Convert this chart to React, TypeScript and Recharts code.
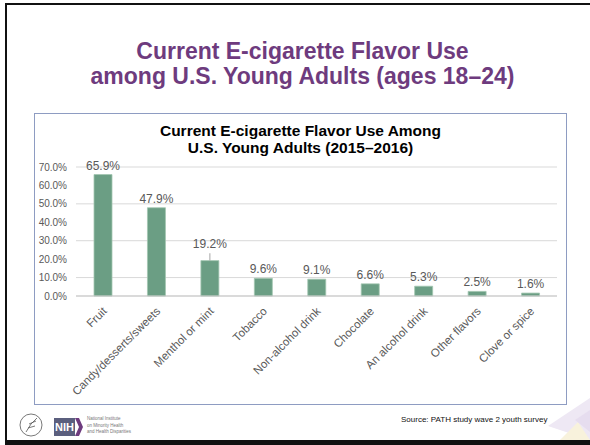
import React from 'react';
import { BarChart, Bar, XAxis, YAxis, CartesianGrid, LabelList, ErrorBar } from 'recharts';

const categories = ['Fruit', 'Candy/desserts/sweets', 'Menthol or mint', 'Tobacco', 'Non-alcohol drink', 'Chocolate', 'An alcohol drink', 'Other flavors', 'Clove or spice'];
const values = [65.9, 47.9, 19.2, 9.6, 9.1, 6.6, 5.3, 2.5, 1.6];
const errUpper = [0, 0, 4.0, 0, 0, 0, 0, 0, 0];
const yTicks = [0, 10, 20, 30, 40, 50, 60, 70];

const data = categories.map((name, i) => ({ name, value: values[i], err: [0, errUpper[i]] }));

const FONT = '"Liberation Sans", Arial, sans-serif';

const XTick = (props: any) => {
  const { x, y, payload } = props;
  const ty = y + 5;
  return (
    <text x={x + 2} y={ty} transform={`rotate(-45 ${x + 2} ${ty})`} textAnchor="end" dy="0.35em" fontSize={11.5} fill="#595959" fontFamily={FONT}>
      {payload.value}
    </text>
  );
};

const renderLabel = (props: any) => {
  const { x, y, width, height, value } = props;
  const idx = props.index != null ? props.index : values.indexOf(value);
  const pxPerUnit = value ? height / value : 0;
  const top = y - (errUpper[idx] || 0) * pxPerUnit;
  return (
    <text x={x + width / 2} y={top - 5} textAnchor="middle" fontSize={12} fill="#595959" fontFamily={FONT}>
      {Number(value).toFixed(1)}%
    </text>
  );
};

export default function App() {
  return (
    <div style={{ position: 'absolute', left: 0, top: 0, width: 590, height: 445, background: '#fff', overflow: 'hidden', fontFamily: FONT }}>
      <div style={{ position: 'absolute', left: 5, top: 3, width: 600, height: 460, borderLeft: '2.5px solid #111', borderTop: '2.5px solid #111', boxSizing: 'border-box' }} />
      <svg style={{ position: 'absolute', left: 0, top: 0 }} width={590} height={445}>
        <polygon points="548,426 590,398 590,440" fill="#EEE8F4" />
        <polygon points="560,440 578,422 590,440" fill="#F8F2DC" />
        <polygon points="575,420 590,410 590,432" fill="#E6DDEF" />
      </svg>
      <div style={{ position: 'absolute', left: 5, top: 440, width: 590, height: 5, background: '#111' }} />
      <div style={{ position: 'absolute', left: 5, top: 39, width: 595, textAlign: 'center', color: '#6E3B7E', fontWeight: 'bold', fontSize: 23, lineHeight: '25px' }}>
        Current E-cigarette Flavor Use<br />among U.S. Young Adults (ages 18–24)
      </div>
      <div style={{ position: 'absolute', left: 34, top: 113, width: 533, height: 292, border: '1.5px solid #8E9CC2', boxSizing: 'border-box', background: '#fff' }} />
      <div style={{ position: 'absolute', left: 34, top: 121.5, width: 533, textAlign: 'center', color: '#000', fontWeight: 'bold', fontSize: 15.5, lineHeight: '17px' }}>
        Current E-cigarette Flavor Use Among<br />U.S. Young Adults (2015–2016)
      </div>
      <div style={{ position: 'absolute', left: 35, top: 114 }}>
        <BarChart width={531} height={290} data={data} margin={{ top: 53, right: 9, left: 0, bottom: 0 }}>
          <CartesianGrid vertical={false} stroke="#D9D9D9" />
          <XAxis dataKey="name" interval={0} tickLine={false} axisLine={{ stroke: '#C8C8C8' }} height={108} tick={<XTick />} />
          <YAxis width={41} domain={[0, 70]} ticks={yTicks} tickFormatter={(v: number) => v.toFixed(1) + '%'} axisLine={false} tickLine={false} tickMargin={3} tick={{ fontSize: 10, fill: '#595959', fontFamily: FONT }} />
          <Bar dataKey="value" fill="#6B9E84" stroke="#A3C6B1" strokeWidth={0.8} barSize={18} isAnimationActive={false}>
            <ErrorBar dataKey="err" width={0} stroke="#A6A6A6" strokeWidth={1} direction="y" />
            <LabelList dataKey="value" content={renderLabel} />
          </Bar>
        </BarChart>
      </div>
      <svg style={{ position: 'absolute', left: 0, top: 0 }} width={120} height={445}>
        <g stroke="#555" fill="none" strokeWidth={0.8}>
          <circle cx={31} cy={425} r={11} />
          <path d="M26 432 L31 424 L37 418 M28 428 L35 426 M29 424 L36 421" />
        </g>
        <polygon points="75,418 79,418 83,427 79,436 75,436 79,427" fill="#6E3B7E" />
      </svg>
      <div style={{ position: 'absolute', left: 54, top: 418, width: 21, height: 18, background: '#5B5F7E', color: '#fff', fontWeight: 'bold', fontSize: 11, lineHeight: '18px', textAlign: 'center' }}>NIH</div>
      <div style={{ position: 'absolute', left: 87, top: 416, color: '#777', fontSize: 4.5, lineHeight: '6.5px' }}>
        National Institute<br />on Minority Health<br />and Health Disparities
      </div>
      <div style={{ position: 'absolute', left: 401, top: 415, color: '#111', fontSize: 8, lineHeight: '10px', whiteSpace: 'nowrap' }}>
        Source: PATH study wave 2 youth survey
      </div>
    </div>
  );
}
